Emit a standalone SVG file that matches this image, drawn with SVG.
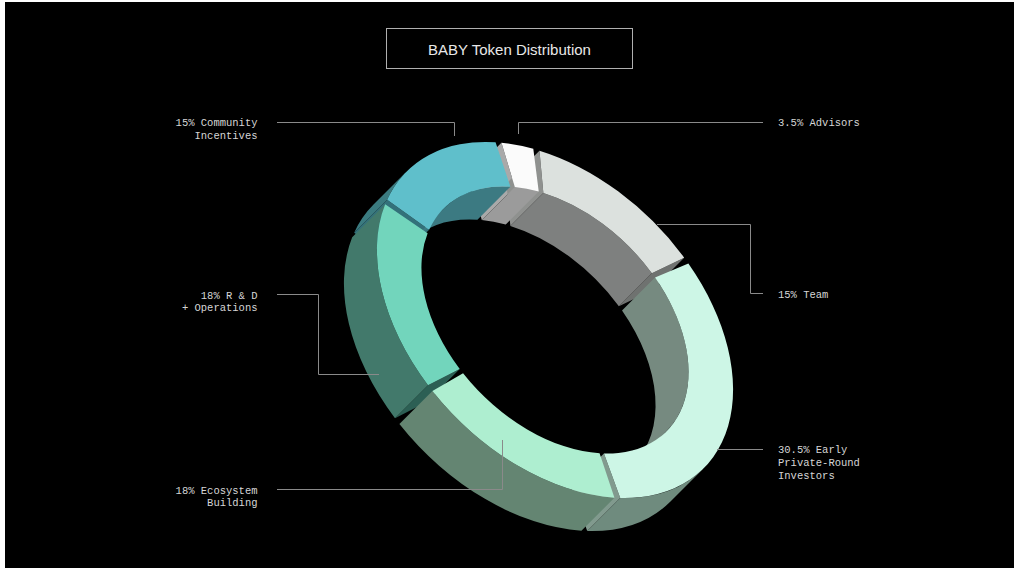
<svg xmlns="http://www.w3.org/2000/svg" width="1017" height="568" viewBox="0 0 1017 568">
<style>
.lbl{font-family:"Liberation Mono","DejaVu Sans Mono",monospace;font-size:10.5px;fill:#d6d6d6}
.end{text-anchor:end}
.lead{fill:none;stroke:#8a8a8a;stroke-width:1}
</style>
<rect x="0" y="0" width="1017" height="568" fill="#ffffff"/>
<rect x="5" y="2" width="1009" height="566" fill="#000000"/>
<g id="title">
<rect x="386.5" y="28.5" width="246" height="40" fill="none" stroke="#b0b0b0" stroke-width="1"/>
<text x="509.5" y="55" text-anchor="middle" font-family="Liberation Sans, Arial, sans-serif" font-size="15" fill="#e8e8e8">BABY Token Distribution</text>
</g>
<g id="caps">
<path d="M501.46,142.74 L514.84,187.06 L481.84,220.06 L468.46,175.74 Z" fill="#a9a9a9"/>
<path d="M539.48,150.64 L543.36,192.98 L510.36,225.98 L506.48,183.64 Z" fill="#8f918f"/>
<path d="M684.17,257.63 L651.88,273.22 L618.88,306.22 L651.17,290.63 Z" fill="#6f7270"/>
<path d="M620.26,498.02 L603.95,453.51 L570.95,486.51 L587.26,531.02 Z" fill="#819a8e"/>
<path d="M427.99,385.27 L459.74,368.96 L426.74,401.96 L394.99,418.27 Z" fill="#2c5f54"/>
<path d="M387.14,199.70 L429.11,229.77 L396.11,262.77 L354.14,232.70 Z" fill="#33717a"/>
</g>
<g id="node-community">
<path d="M443.63,208.63 A157.5,104.25 45 0 1 510.43,186.69 L477.43,219.69 A157.5,104.25 45 0 0 410.63,241.63 Z" fill="#3c7a82"/>
<path d="M387.14,199.70 A210,139 45 0 1 406.51,171.51 L373.51,204.51 A210,139 45 0 0 354.14,232.70 Z" fill="#3b7b80"/>
<path d="M387.14,199.70 A210,139 45 0 1 495.56,142.26 L510.43,186.69 A157.5,104.25 45 0 0 429.11,229.77 Z" fill="#5fbfcb"/>
</g>
<g id="node-advisors">
<path d="M514.84,187.06 A157.5,104.25 45 0 1 538.73,191.61 L505.73,224.61 A157.5,104.25 45 0 0 481.84,220.06 Z" fill="#9b9b9b"/>
<path d="M501.46,142.74 A210,139 45 0 1 533.30,148.82 L538.73,191.61 A157.5,104.25 45 0 0 514.84,187.06 Z" fill="#fbfbfb"/>
</g>
<g id="node-team">
<path d="M543.36,192.98 A157.5,104.25 45 0 1 651.88,273.22 L618.88,306.22 A157.5,104.25 45 0 0 510.36,225.98 Z" fill="#7e807f"/>
<path d="M539.48,150.64 A210,139 45 0 1 684.17,257.63 L651.88,273.22 A157.5,104.25 45 0 0 543.36,192.98 Z" fill="#dce1de"/>
</g>
<g id="node-early">
<path d="M655.03,277.61 A157.5,104.25 45 0 1 666.37,431.37 L633.37,464.37 A157.5,104.25 45 0 0 622.03,310.61 Z" fill="#768a80"/>
<path d="M703.49,468.49 A210,139 45 0 1 620.26,498.02 L587.26,531.02 A210,139 45 0 0 670.49,501.49 Z" fill="#6f8b7e"/>
<path d="M688.37,263.49 A210,139 45 0 1 620.26,498.02 L603.95,453.51 A157.5,104.25 45 0 0 655.03,277.61 Z" fill="#cdf6e6"/>
</g>
<g id="node-ecosystem">
<path d="M614.44,497.74 A210,139 45 0 1 432.41,391.01 L399.41,424.01 A210,139 45 0 0 581.44,530.74 Z" fill="#648572"/>
<path d="M614.44,497.74 A210,139 45 0 1 432.41,391.01 L463.06,373.26 A157.5,104.25 45 0 0 599.57,453.31 Z" fill="#aeeed0"/>
</g>
<g id="node-rd">
<path d="M427.99,385.27 A210,139 45 0 1 385.17,204.35 L352.17,237.35 A210,139 45 0 0 394.99,418.27 Z" fill="#42796b"/>
<path d="M427.99,385.27 A210,139 45 0 1 385.17,204.35 L427.62,233.26 A157.5,104.25 45 0 0 459.74,368.96 Z" fill="#72d5bc"/>
</g>
<g id="connectors">
<path class="lead" d="M277,122.5 H454.5 V136"/>
<path class="lead" d="M518.5,134 V122.5 H763"/>
<path class="lead" d="M657,224.5 H750.5 V293.5 H763"/>
<path class="lead" d="M717,449.5 H763"/>
<path class="lead" d="M277,294.5 H318.5 V374.5 H379"/>
<path class="lead" d="M277,489.5 H502.5 V440"/>
</g>
<g id="labels">
<text class="lbl end" x="257.5" y="126">15% Community</text>
<text class="lbl end" x="257.5" y="139">Incentives</text>
<text class="lbl" x="778" y="126">3.5% Advisors</text>
<text class="lbl" x="778" y="298">15% Team</text>
<text class="lbl" x="778" y="453">30.5% Early</text>
<text class="lbl" x="778" y="466">Private-Round</text>
<text class="lbl" x="778" y="479">Investors</text>
<text class="lbl end" x="257.5" y="299">18% R &amp; D</text>
<text class="lbl end" x="257.5" y="311">+ Operations</text>
<text class="lbl end" x="257.5" y="494">18% Ecosystem</text>
<text class="lbl end" x="257.5" y="506">Building</text>
</g>
</svg>
